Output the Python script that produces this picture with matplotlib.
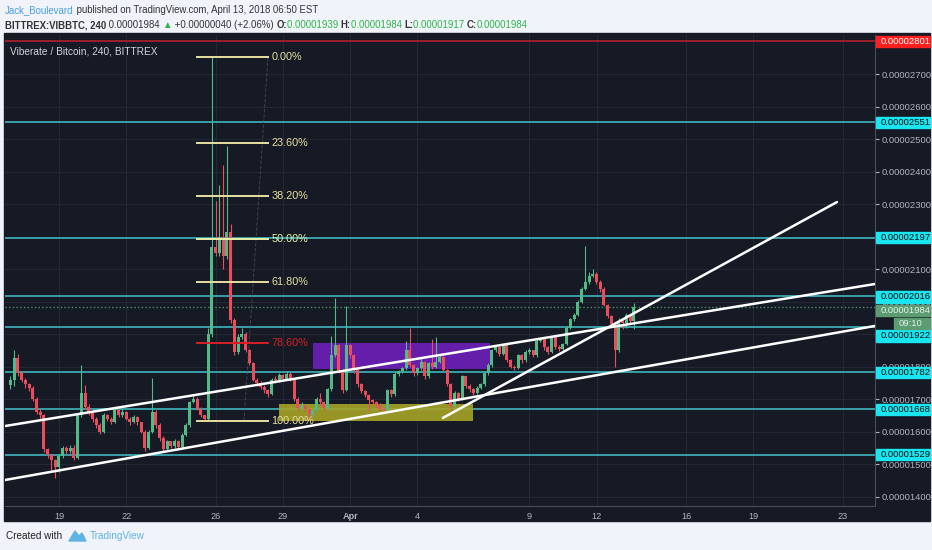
import matplotlib
matplotlib.use('Agg')
import matplotlib.pyplot as plt
import matplotlib.transforms as mtransforms
from matplotlib.patches import Rectangle, Polygon

plt.rcParams['font.family'] = ['Liberation Sans', 'DejaVu Sans']

W, H = 932, 550

# VIB/BTC 4h candles, prices in satoshi (1e-8 BTC)
first_open = 1743
closes = [1758, 1826, 1780, 1760, 1745, 1735, 1700, 1660, 1650, 1545,
          1528, 1512, 1490, 1525, 1548, 1540, 1550, 1520, 1650, 1718,
          1675, 1660, 1640, 1620, 1600, 1650, 1640, 1630, 1666, 1650,
          1660, 1640, 1630, 1645, 1628, 1600, 1550, 1600, 1660, 1620,
          1580, 1545, 1570, 1555, 1572, 1552, 1590, 1620, 1690, 1700,
          1670, 1650, 1640, 1900, 2168, 2150, 2200, 2140, 2215, 1943,
          1845, 1891, 1900, 1851, 1810, 1760, 1750, 1738, 1728, 1715,
          1760, 1758, 1775, 1762, 1778, 1760, 1700, 1672, 1680, 1670,
          1650, 1665, 1700, 1690, 1672, 1730, 1835, 1866, 1789, 1728,
          1866, 1835, 1789, 1745, 1725, 1712, 1697, 1690, 1685, 1670,
          1665, 1728, 1715, 1778, 1785, 1795, 1851, 1805, 1780, 1795,
          1815, 1770, 1810, 1800, 1815, 1830, 1790, 1745, 1680, 1720,
          1700, 1770, 1740, 1730, 1720, 1735, 1745, 1780, 1805, 1850,
          1860, 1840, 1866, 1820, 1800, 1795, 1835, 1820, 1845, 1850,
          1835, 1880, 1885, 1860, 1845, 1890, 1860, 1855, 1870, 1920,
          1945, 1960, 2000, 2040, 2060, 2080, 2085, 2060, 2040, 1990,
          1955, 1930, 1850, 1940, 1935, 1960, 1939, 1984]
highs = [1770, 1851, 1838, 1785, 1765, 1750, 1740, 1705, 1668, 1655,
         1550, 1530, 1515, 1530, 1555, 1556, 1560, 1558, 1655, 1805,
         1743, 1685, 1665, 1645, 1625, 1658, 1655, 1645, 1672, 1670,
         1668, 1662, 1645, 1650, 1648, 1630, 1605, 1605, 1765, 1665,
         1625, 1585, 1575, 1572, 1578, 1575, 1595, 1625, 1695, 1712,
         1705, 1675, 1652, 1920, 2752, 2310, 2360, 2420, 2480, 2240,
         1950, 1900, 1920, 1905, 1855, 1815, 1765, 1755, 1742, 1730,
         1765, 1770, 1780, 1778, 1785, 1782, 1762, 1705, 1690, 1685,
         1672, 1668, 1705, 1720, 1695, 1735, 1895, 2010, 1870, 1792,
         1985, 1870, 1840, 1792, 1750, 1728, 1715, 1700, 1695, 1688,
         1675, 1732, 1732, 1782, 1790, 1800, 1880, 1920, 1808, 1800,
         1825, 1818, 1815, 1885, 1890, 1835, 1832, 1792, 1748, 1725,
         1722, 1775, 1772, 1745, 1735, 1740, 1750, 1785, 1810, 1855,
         1866, 1862, 1870, 1866, 1822, 1805, 1840, 1838, 1850, 1856,
         1852, 1885, 1890, 1888, 1862, 1895, 1892, 1865, 1872, 1925,
         1950, 1965, 2005, 2045, 2171, 2090, 2100, 2090, 2065, 2045,
         1992, 1960, 1932, 1950, 1945, 1965, 1962, 1995]
lows = [1730, 1740, 1772, 1752, 1735, 1725, 1695, 1655, 1640, 1538,
        1520, 1482, 1457, 1475, 1520, 1530, 1535, 1512, 1515, 1645,
        1668, 1650, 1630, 1612, 1594, 1595, 1632, 1622, 1625, 1645,
        1645, 1635, 1620, 1625, 1620, 1595, 1540, 1545, 1595, 1612,
        1572, 1540, 1540, 1548, 1550, 1545, 1548, 1585, 1615, 1688,
        1665, 1645, 1632, 1635, 1890, 2140, 2140, 2100, 2130, 1935,
        1835, 1840, 1885, 1845, 1805, 1755, 1740, 1730, 1720, 1705,
        1712, 1750, 1752, 1755, 1758, 1755, 1695, 1665, 1668, 1662,
        1635, 1645, 1660, 1682, 1665, 1668, 1725, 1830, 1780, 1720,
        1725, 1825, 1780, 1738, 1718, 1705, 1666, 1682, 1675, 1662,
        1658, 1660, 1705, 1710, 1772, 1780, 1790, 1798, 1772, 1775,
        1790, 1762, 1765, 1792, 1795, 1810, 1785, 1740, 1666, 1675,
        1695, 1698, 1735, 1722, 1712, 1715, 1730, 1740, 1775, 1800,
        1845, 1832, 1835, 1815, 1795, 1788, 1792, 1812, 1815, 1840,
        1828, 1830, 1875, 1852, 1840, 1842, 1855, 1848, 1850, 1865,
        1915, 1940, 1955, 1995, 2035, 2055, 2075, 2055, 2030, 1985,
        1950, 1925, 1800, 1845, 1915, 1920, 1930, 1917]
start_day = -2.17   # first candle, days after Mar 19 00:00
candle_step = 1 / 6

day_ticks = [0, 3, 7, 10, 13, 16, 21, 24, 28, 31, 35]
day_labels = ['19', '22', '26', '29', 'Apr', '4', '9', '12', '16', '19', '23']
price_ticks = list(range(1400, 2800, 100))

levels = [2551, 2197, 2016, 1922, 1782, 1668, 1529]
# where the axis tag of each level sits (TradingView nudges crowded ones)
level_tag_at = [2551, 2197, 2014, 1894, 1782, 1668, 1529]
top_level = 2801
last_price = 1984
last_tag_at = 1971
countdown_tag_at = 1931

fib_labels = ['0.00%', '23.60%', '38.20%', '50.00%', '61.80%', '78.60%', '100.00%']
fib_prices = [2752, 2488, 2324, 2192, 2060, 1872, 1632]
fib_colors = ['#e8dfa0', '#e8dfa0', '#e8dfa0', '#e8f0a8', '#e8dfa0', '#d81f26', '#e8dfa0']
fib_span = (6.16, 9.33)

trend_lines = [((-2.41, 1617), (36.43, 2054)),
               ((-2.41, 1451), (36.43, 1925)),
               ((17.14, 1642), (34.73, 2306))]

purple_box = (11.34, 1792, 7.90, 80)
olive_box = (9.82, 1632, 8.66, 53)

UP, DOWN = '#53b987', '#eb4d5c'
BG = '#161a25'
GRID = '#242836'
TXT = '#b2b5be'
LEVEL = '#3fb4bd'

fig = plt.figure(figsize=(W / 100, H / 100), dpi=100, facecolor='#f0f3fa')
fig.patches.append(Rectangle((4 / W, 1 - 521 / H), 926 / W, 488 / H,
                             transform=fig.transFigure, color=BG, zorder=-5))
ax = fig.add_axes([5 / W, 1 - 506 / H, 870 / W, 471 / H], facecolor=BG)
ax.set_xlim(-2.41, 36.43)
ax.set_ylim(1371, 2820)

ax.set_xticks(day_ticks)
ax.set_xticklabels(day_labels)
for lab in ax.get_xticklabels():
    if lab.get_text() == 'Apr':
        lab.set_fontweight('bold')
ax.set_yticks(price_ticks)
ax.set_yticklabels([f'{p * 1e-8:.8f}' for p in price_ticks])
ax.yaxis.tick_right()
ax.tick_params(axis='y', colors=TXT, labelsize=6.8, length=3, pad=2)
ax.tick_params(axis='x', colors=TXT, labelsize=6.6, length=0, pad=4)
ax.grid(True, color=GRID, lw=0.8)
ax.set_axisbelow(True)
for side in ['top', 'left']:
    ax.spines[side].set_visible(False)
for side in ['right', 'bottom']:
    ax.spines[side].set_color('#4a4e5a')

# levels
for p in levels:
    ax.axhline(p, color=LEVEL, lw=1.2, zorder=1)
ax.axhline(top_level, color='#b3202a', lw=1.2, zorder=1)
ax.axhline(last_price, color='#4f8f6a', lw=1, ls=':', zorder=1)

# boxes
ax.add_patch(Rectangle(purple_box[:2], purple_box[2], purple_box[3],
                       color='#6e1fb8', alpha=0.9, lw=0, zorder=2))
ax.add_patch(Rectangle(olive_box[:2], olive_box[2], olive_box[3],
                       color='#a5a326', alpha=0.9, lw=0, zorder=2))

# candles
opens = [first_open] + closes[:-1]
for i, (o, h, l, c) in enumerate(zip(opens, highs, lows, closes)):
    t = start_day + i * candle_step
    col = UP if c >= o else DOWN
    ax.vlines(t, l, h, color=col, lw=0.8, zorder=3)
    ax.bar(t, max(abs(c - o), 3), bottom=min(o, c), width=0.135,
           color=col, lw=0, zorder=4)

# fib retracement
ax.plot([fib_span[0] + 2.1, fib_span[1]], [fib_prices[-1], fib_prices[0]],
        color='#5a5d66', lw=0.7, ls='--', alpha=0.6, zorder=5)
for lab, p, col in zip(fib_labels, fib_prices, fib_colors):
    ax.plot(fib_span, [p, p], color=col, lw=1.4, zorder=5)
    ax.text(fib_span[1] + 0.15, p, lab, color=col, fontsize=7.8,
            va='center', ha='left', zorder=6)

for (d0, p0), (d1, p1) in trend_lines:
    ax.plot([d0, d1], [p0, p1], color='white', lw=1.8, zorder=6,
            solid_capstyle='round')

ax.text(0.006, 0.975, 'Viberate / Bitcoin, 240, BITTREX', transform=ax.transAxes,
        color='#d1d4dc', fontsize=7.3, va='top', ha='left')

# price axis labels
bt = mtransforms.blended_transform_factory(ax.transAxes, ax.transData)


def price_tag(y, text, face, fg, x0=1.001, w=0.062):
    ax.add_patch(Rectangle((x0, y - 17), w, 34, transform=bt, color=face,
                           clip_on=False, zorder=8))
    ax.text(x0 + 0.005, y, text, transform=bt, color=fg,
            fontsize=6.8, va='center', ha='left', clip_on=False, zorder=9)


for p, y in zip(levels, level_tag_at):
    price_tag(y, f'{p * 1e-8:.8f}', '#19e6f0', '#101010')
price_tag(top_level, f'{top_level * 1e-8:.8f}', '#ff1f1f', 'white')
price_tag(last_tag_at, f'{last_price * 1e-8:.8f}', '#5b9c73', '#e6f2ea')
price_tag(countdown_tag_at, '09:10', '#5b9c73', '#e6f2ea', x0=1.022, w=0.041)

# header
renderer = fig.canvas.get_renderer()


def draw_runs(x, y, runs, size):
    for s, color, weight in runs:
        t = fig.text(x / W, 1 - y / H, s, color=color, fontsize=size,
                     fontweight=weight, va='center', ha='left')
        x += t.get_window_extent(renderer=renderer).width


G = '#2fb34a'
D = '#333333'
draw_runs(5, 10, [('Jack_Boulevard', '#4a9fd8', 'normal'),
                  (' published on TradingView.com, April 13, 2018 06:50 EST', D, 'normal')], 6.9)
draw_runs(5, 25, [('BITTREX:VIBBTC, 240', D, 'bold'),
                  (' 0.00001984 ', D, 'normal'),
                  ('\u25b2', G, 'normal'),
                  (' +0.00000040 (+2.06%) ', D, 'normal'),
                  ('O:', D, 'bold'), ('0.00001939 ', G, 'normal'),
                  ('H:', D, 'bold'), ('0.00001984 ', G, 'normal'),
                  ('L:', D, 'bold'), ('0.00001917 ', G, 'normal'),
                  ('C:', D, 'bold'), ('0.00001984', G, 'normal')], 6.9)

# footer
fig.text(6 / W, 1 - 536 / H, 'Created with', color='#222222', fontsize=7.2,
         va='center', ha='left')
fig.patches.append(Polygon([(69 / W, 1 - 541 / H), (75 / W, 1 - 531 / H),
                            (79 / W, 1 - 536 / H), (82 / W, 1 - 533 / H),
                            (86 / W, 1 - 541 / H)],
                           transform=fig.transFigure, color='#5fb3e3'))
fig.text(90 / W, 1 - 536 / H, 'TradingView', color='#5fb3e3', fontsize=7.2,
         va='center', ha='left')

fig.savefig('out.png', dpi=100, facecolor=fig.get_facecolor())
